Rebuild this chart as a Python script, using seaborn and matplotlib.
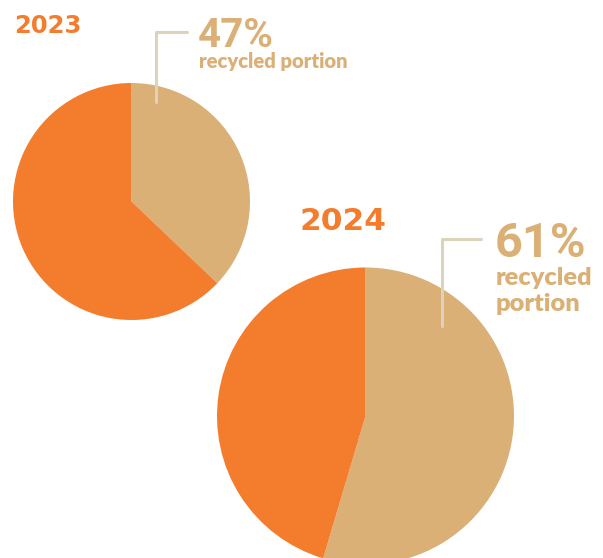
import matplotlib
matplotlib.use("Agg")
import matplotlib.pyplot as plt
from matplotlib.transforms import IdentityTransform
from matplotlib.lines import Line2D
import seaborn as sns

# data
years = ["2023", "2024"]
recycled_drawn = [37.1, 54.6]      # share of the tan wedge as drawn
other_drawn = [62.9, 45.4]
label_pct = ["47%", "61%"]
captions = [["recycled portion"], ["recycled", "portion"]]

sns.set_theme(style="white")
orange, tan = sns.color_palette(["#f47c2d", "#dab077"])
line_col = "#ddd3bd"

W, H = 603, 558
fig = plt.figure(figsize=(W / 100, H / 100), dpi=100)
fig.patch.set_facecolor("white")

# pie centre and radius in image pixels
pies = [(131.5, 201.5, 118.5), (365.5, 416, 148.5)]
for i, (cx, cy, r) in enumerate(pies):
    ax = fig.add_axes([(cx - r) / W, (H - cy - r) / H, 2 * r / W, 2 * r / H])
    ax.pie([recycled_drawn[i], other_drawn[i]], colors=[tan, orange],
           startangle=90, counterclock=False, radius=1,
           wedgeprops=dict(linewidth=0))
    ax.set_xlim(-1, 1)
    ax.set_ylim(-1, 1)
    ax.set_aspect("auto")
    ax.axis("off")

def t(x, y, s, **kw):
    return fig.text(x, H - y, s, transform=IdentityTransform(), va="baseline", **kw)

# connectors
for (x0, y0, x1, y1) in [(155.5, 32, 187, 102), (441.5, 239, 481, 326)]:
    fig.add_artist(Line2D([x1, x0, x0], [H - y0, H - y0, H - y1],
                          transform=IdentityTransform(), color=line_col, lw=2.2))

# year titles
t(14, 33, years[0], color=orange, fontsize=17.5, fontweight="bold", family=["DejaVu Sans"])
t(300, 230, years[1], color=orange, fontsize=22.5, fontweight="bold", family=["DejaVu Sans"])

# percentages
pct_font = dict(color=tan, fontweight="bold", family=["Roboto", "DejaVu Sans"])
t(198, 47, label_pct[0], fontsize=29, **pct_font)
t(495, 257, label_pct[1], fontsize=35, **pct_font)

# captions
cap_font = dict(color=tan, fontweight="heavy", family=["Lato", "DejaVu Sans"])
t(199, 68, captions[0][0], fontsize=14.6, **cap_font)
t(496, 285, captions[1][0], fontsize=18.3, **cap_font)
t(496, 311, captions[1][1], fontsize=18.3, **cap_font)

fig.savefig("out.png", dpi=100, facecolor="white")
